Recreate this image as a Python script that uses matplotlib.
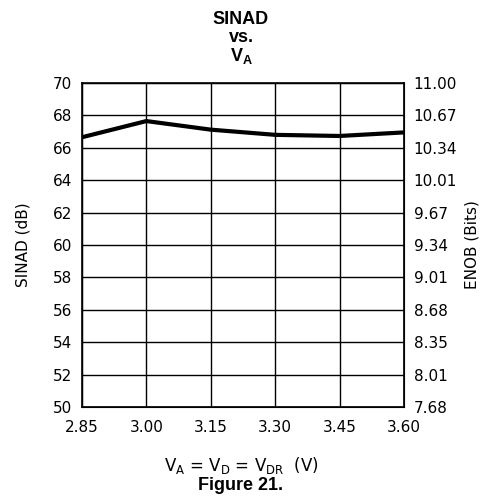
import numpy as np
import matplotlib
matplotlib.use("Agg")
import matplotlib.pyplot as plt

supply_v = [2.85, 3.00, 3.15, 3.30, 3.45, 3.60]
sinad_db = [66.65, 67.65, 67.12, 66.8, 66.73, 66.95]

x_ticks = [2.85, 3.00, 3.15, 3.30, 3.45, 3.60]
sinad_ticks = [50, 52, 54, 56, 58, 60, 62, 64, 66, 68, 70]
enob_labels = ["7.68", "8.01", "8.35", "8.68", "9.01", "9.34", "9.67",
               "10.01", "10.34", "10.67", "11.00"]

fig = plt.figure(figsize=(4.82, 5.0), dpi=100)
ax = fig.add_axes([0.170, 0.186, 0.668, 0.648])

ax.plot(supply_v, sinad_db, color="black", linewidth=3, solid_capstyle="butt")
ax.set_xlim(2.85, 3.60)
ax.set_ylim(50, 70)
ax.set_xticks(x_ticks)
ax.set_xticklabels([f"{v:.2f}" for v in x_ticks])
ax.set_yticks(sinad_ticks)
ax.grid(True, color="black", linewidth=1)
ax.tick_params(axis="y", length=0, labelsize=11, pad=7)
ax.tick_params(axis="x", length=0, labelsize=11, pad=9)
for s in ax.spines.values():
    s.set_linewidth(1.2)

ax2 = ax.twinx()
ax2.set_ylim(50, 70)
ax2.set_yticks(sinad_ticks)
ax2.set_yticklabels(enob_labels)
ax2.tick_params(length=0, labelsize=11, pad=7)

ax.set_ylabel("SINAD (dB)", fontsize=11, labelpad=16)
ax2.set_ylabel("ENOB (Bits)", fontsize=11, labelpad=5)

fig.text(0.5, 0.07, r"V$_\mathregular{A}$ = V$_\mathregular{D}$ = V$_\mathregular{DR}$  (V)",
         ha="center", va="center", fontsize=12)
fig.text(0.5, 0.03, "Figure 21.", ha="center", va="center", fontsize=13,
         fontweight="bold", family="Liberation Sans")

fig.text(0.5, 0.96, "SINAD", ha="center", va="center", fontsize=13,
         fontweight="bold", family="Liberation Sans")
fig.text(0.5, 0.924, "vs.", ha="center", va="center", fontsize=13,
         fontweight="bold", family="Liberation Sans")
fig.text(0.5, 0.888, r"V$_\mathregular{A}$", ha="center", va="center", fontsize=13,
         fontweight="bold", family="Liberation Sans")

fig.savefig("out.png", dpi=100)
